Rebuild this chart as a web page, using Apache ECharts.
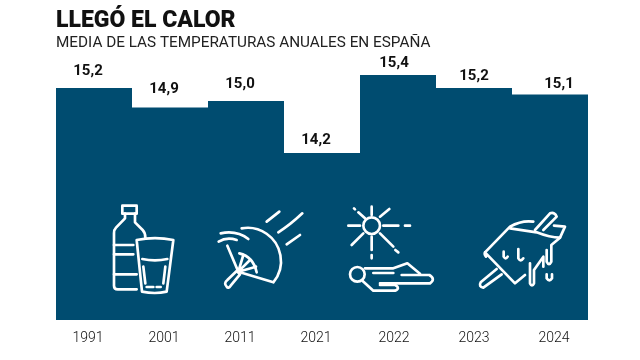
<!DOCTYPE html>
<html>
<head>
<meta charset="utf-8">
<style>html,body{margin:0;background:#fff}#chart{width:640px;height:360px}</style>
<script src="https://cdn.jsdelivr.net/npm/echarts@6/dist/echarts.min.js"></script>
</head>
<body>
<div id="chart"></div>
<script>
// datos
const years = ['1991', '2001', '2011', '2021', '2022', '2023', '2024'];
const temps = [15.2, 14.9, 15.0, 14.2, 15.4, 15.2, 15.1];
// desplazamiento de las etiquetas (no van centradas en la barra)
const valueShiftX = [-6, -6, -6, -6, -4, 0, 9];
const valueShiftY = [2, 0, 2, 6, 7, 7, 8];
const yearShift = [-6, -6, -6, -6, -4, 0, 4];

const BLUE = '#004c70';

// iconos dibujados en coordenadas del recorte x3
const bottleGlass = [
  'M97 32H140V56H97Z',
  'M105 56V70L78 98Q72 104 72 115V272Q72 283 83 283H140',
  'M135 56V82L158 105Q166 113 166 128',
  'M72 150H130M72 178H130M72 238H140',
  'M140 135Q195 124 250 135L230 290Q195 298 156 290Z',
  'M157 192Q195 200 232 192',
  'M160 215L166 265M226 215L220 265',
  'M170 276H190M200 276H212'
];
const fan = [
  'M455 100A100 100 0 0 1 550 262L445 230L412 152',
  'M410 275Q400 265 412 255L440 228L450 238L422 272Q415 282 410 275Z',
  'M448 175Q490 185 500 232',
  'M445 230L460 180M445 230L480 195M445 230L498 215',
  'M530 80L568 50M565 112Q600 90 637 55M590 148L630 120',
  'M392 115Q440 105 475 132M386 140Q410 125 440 135'
];
const sunPerson = [
  'M100 92A25 25 0 1 0 150 92A25 25 0 1 0 100 92Z',
  'M55 92H90M160 92H205M225 92H240',
  'M125 35V60M125 125V165M125 180V190',
  'M72 40L75 43M85 52L105 70M178 42L150 65',
  'M65 150L100 115M150 115L190 155M196 165L205 172',
  'M60 238A22 22 0 1 0 104 238A22 22 0 1 0 60 238Z',
  'M105 220H190L232 205L270 236',
  'M130 234H190M215 240H298Q318 252 300 265H150',
  'M98 258L130 287H195Q212 280 196 270H150'
];
const popsicle = [
  'M465 172L540 95Q575 75 610 80M540 100L620 112Q660 128 690 128L705 95L672 92',
  'M465 172L555 265L585 240M465 172Q462 178 468 185',
  'M615 105L660 55Q675 50 680 65L640 105',
  'M500 222L452 262Q445 275 460 278L515 238',
  'M521 170V185Q527 195 533 185M565 162V190Q572 202 580 190',
  'M600 205V265Q606 278 612 265V225L640 185V215',
  'M650 165V200Q657 215 664 200V150L690 128',
  'M650 238V250Q658 262 666 250V238'
];

function iconGroup(x, y, paths) {
  return {
    type: 'group',
    x: x,
    y: y,
    scaleX: 1 / 3,
    scaleY: 1 / 3,
    silent: true,
    children: paths.map(d => ({
      type: 'path',
      shape: { pathData: d },
      style: { fill: 'none', stroke: '#fff', lineWidth: 8, lineCap: 'round', lineJoin: 'round' }
    }))
  };
}

const chart = echarts.init(document.getElementById('chart'), null, { renderer: 'canvas' });
chart.setOption({
  animation: false,
  title: {
    text: 'LLEGÓ EL CALOR',
    subtext: 'MEDIA DE LAS TEMPERATURAS ANUALES EN ESPAÑA',
    left: 56,
    top: 10,
    padding: 0,
    itemGap: 3,
    textStyle: { fontFamily: 'Roboto', fontWeight: 900, fontSize: 23, color: '#111' },
    subtextStyle: { fontFamily: 'Roboto', fontWeight: 400, fontSize: 15.3, color: '#222' }
  },
  // ancho multiplo de 7 para que las barras caigan en pixel entero, sin juntas
  grid: { left: 56, top: 75, width: 532, height: 245 },
  xAxis: {
    type: 'category',
    data: years.map((y, i) => ({
      value: y,
      textStyle: {
        padding: yearShift[i] < 0 ? [0, -yearShift[i] * 2, 0, 0] : [0, 0, 0, yearShift[i] * 2]
      }
    })),
    axisLine: { show: false },
    axisTick: { show: false },
    axisLabel: { margin: 11, fontFamily: 'Roboto', fontWeight: 300, fontSize: 14, color: '#111', interval: 0 }
  },
  yAxis: { type: 'value', min: 11.63, max: 15.4, show: false },
  series: [
    {
      type: 'bar',
      barCategoryGap: 0,
      itemStyle: { color: BLUE },
      label: {
        show: true,
        position: 'top',
        distance: 11,
        formatter: p => p.value.toFixed(1).replace('.', ','),
        fontFamily: 'Roboto',
        fontWeight: 700,
        fontSize: 15,
        color: '#111'
      },
      data: temps.map((t, i) => ({ value: t, label: { offset: [valueShiftX[i], valueShiftY[i]] } }))
    },
    {
      // iconos encima de las barras
      type: 'custom',
      coordinateSystem: 'none',
      silent: true,
      data: [0],
      z: 5,
      renderItem: () => ({
        type: 'group',
        children: [
          iconGroup(90, 195, bottleGlass),
          iconGroup(90, 195, fan),
          iconGroup(330, 195, sunPerson),
          iconGroup(330, 195, popsicle)
        ]
      })
    }
  ]
});
</script>
</body>
</html>
